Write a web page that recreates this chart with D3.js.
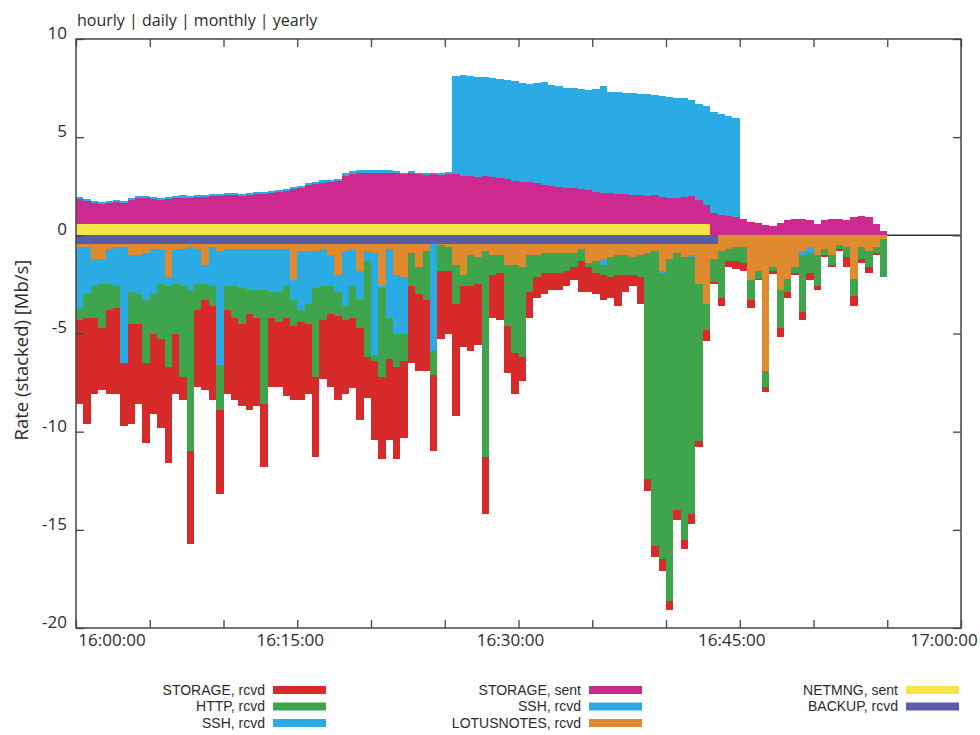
<!DOCTYPE html>
<html lang="en">
<head>
<meta charset="UTF-8">
<title>Rate (stacked)</title>
<script src="https://cdnjs.cloudflare.com/ajax/libs/d3/7.8.5/d3.min.js"></script>
<style>
	body { margin: 0; background: #fff; }
	svg text { font-family: "Open Sans", sans-serif; fill: #2b2b2b; }
	svg text.legend { font-family: "Liberation Sans", Arial, sans-serif; }
</style>
<script>
// 30 second samples, 16:00:00 .. 16:54:30
var times = [
	"16:00:00","16:00:30","16:01:00","16:01:30","16:02:00","16:02:30","16:03:00","16:03:30","16:04:00","16:04:30",
	"16:05:00","16:05:30","16:06:00","16:06:30","16:07:00","16:07:30","16:08:00","16:08:30","16:09:00","16:09:30",
	"16:10:00","16:10:30","16:11:00","16:11:30","16:12:00","16:12:30","16:13:00","16:13:30","16:14:00","16:14:30",
	"16:15:00","16:15:30","16:16:00","16:16:30","16:17:00","16:17:30","16:18:00","16:18:30","16:19:00","16:19:30",
	"16:20:00","16:20:30","16:21:00","16:21:30","16:22:00","16:22:30","16:23:00","16:23:30","16:24:00","16:24:30",
	"16:25:00","16:25:30","16:26:00","16:26:30","16:27:00","16:27:30","16:28:00","16:28:30","16:29:00","16:29:30",
	"16:30:00","16:30:30","16:31:00","16:31:30","16:32:00","16:32:30","16:33:00","16:33:30","16:34:00","16:34:30",
	"16:35:00","16:35:30","16:36:00","16:36:30","16:37:00","16:37:30","16:38:00","16:38:30","16:39:00","16:39:30",
	"16:40:00","16:40:30","16:41:00","16:41:30","16:42:00","16:42:30","16:43:00","16:43:30","16:44:00","16:44:30",
	"16:45:00","16:45:30","16:46:00","16:46:30","16:47:00","16:47:30","16:48:00","16:48:30","16:49:00","16:49:30",
	"16:50:00","16:50:30","16:51:00","16:51:30","16:52:00","16:52:30","16:53:00","16:53:30","16:54:00","16:54:30"
];

// sent (positive), Mb/s
var netmngSent = [
	0.6,0.6,0.6,0.6,0.6,0.6,0.6,0.6,0.6,0.6,
	0.6,0.6,0.6,0.6,0.6,0.6,0.6,0.6,0.6,0.6,
	0.6,0.6,0.6,0.6,0.6,0.6,0.6,0.6,0.6,0.6,
	0.6,0.6,0.6,0.6,0.6,0.6,0.6,0.6,0.6,0.6,
	0.6,0.6,0.6,0.6,0.6,0.6,0.6,0.6,0.6,0.6,
	0.6,0.6,0.6,0.6,0.6,0.6,0.6,0.6,0.6,0.6,
	0.6,0.6,0.6,0.6,0.6,0.6,0.6,0.6,0.6,0.6,
	0.6,0.6,0.6,0.6,0.6,0.6,0.6,0.6,0.6,0.6,
	0.6,0.6,0.6,0.6,0.6,0.6,0,0,0,0,
	0,0,0,0,0,0,0,0,0,0,
	0,0,0,0,0,0,0,0,0,0
];
var storageSent = [
	1.25,1.15,1.05,1.02,1.05,1.1,1.05,1.2,1.28,1.3,
	1.25,1.2,1.25,1.3,1.32,1.3,1.35,1.35,1.4,1.4,
	1.45,1.45,1.4,1.45,1.5,1.5,1.55,1.6,1.65,1.75,
	1.8,1.95,2.0,2.05,2.1,2.15,2.4,2.5,2.55,2.55,
	2.6,2.55,2.6,2.55,2.5,2.55,2.5,2.45,2.5,2.45,
	2.5,2.5,2.4,2.4,2.35,2.4,2.35,2.3,2.25,2.15,
	2.1,2.1,2.05,1.95,1.9,1.85,1.8,1.8,1.75,1.7,
	1.6,1.55,1.55,1.5,1.5,1.45,1.45,1.4,1.45,1.35,
	1.3,1.3,1.35,1.4,1.2,0.95,1.15,1.05,1.0,0.95,
	0.85,0.7,0.65,0.55,0.5,0.65,0.8,0.85,0.85,0.8,
	0.6,0.8,0.85,0.85,0.8,0.95,1.0,0.95,0.6,0.2
];
var sshSentTop = [
	0.12,0.1,0.08,0.1,0.1,0.08,0.1,0.1,0.12,0.1,
	0.1,0.12,0.1,0.1,0.12,0.1,0.1,0.12,0.1,0.1,
	0.12,0.1,0.12,0.1,0.1,0.12,0.1,0.1,0.12,0.1,
	0.1,0.12,0.1,0.15,0.1,0.12,0.15,0.2,0.18,0.2,
	0.15,0.2,0.15,0.12,0.1,0.12,0.1,0.12,0.1,0.1,
	0.12,5.0,5.15,5.1,5.1,5.05,5.05,5.05,5.05,5.1,
	5.05,5.0,5.1,5.25,5.15,5.15,5.1,5.1,5.1,5.1,
	5.25,5.45,5.15,5.2,5.15,5.2,5.15,5.2,5.1,5.15,
	5.15,5.1,5.05,4.9,4.9,5.05,5.15,5.15,5.1,5.05,
	0,0,0,0,0,0,0,0,0,0,
	0,0,0,0,0,0,0,0,0,0
];

// received (negative), Mb/s
var backupRcvd = [
	-0.42,-0.42,-0.42,-0.42,-0.42,-0.42,-0.42,-0.42,-0.42,-0.42,
	-0.42,-0.42,-0.42,-0.42,-0.42,-0.42,-0.42,-0.42,-0.42,-0.42,
	-0.42,-0.42,-0.42,-0.42,-0.42,-0.42,-0.42,-0.42,-0.42,-0.42,
	-0.42,-0.42,-0.42,-0.42,-0.42,-0.42,-0.42,-0.42,-0.42,-0.42,
	-0.42,-0.42,-0.42,-0.42,-0.42,-0.42,-0.42,-0.42,-0.42,-0.42,
	-0.42,-0.42,-0.42,-0.42,-0.42,-0.42,-0.42,-0.42,-0.42,-0.42,
	-0.42,-0.42,-0.42,-0.42,-0.42,-0.42,-0.42,-0.42,-0.42,-0.42,
	-0.42,-0.42,-0.42,-0.42,-0.42,-0.42,-0.42,-0.42,-0.42,-0.42,
	-0.42,-0.42,-0.42,-0.42,-0.42,-0.42,-0.42,0,0,0,
	0,0,0,0,0,0,0,0,0,0,
	0,0,0,0,0,0,0,0,0,0
];
var lotusRcvd = [
	-0.18,-0.18,-0.78,-0.78,-0.28,-0.18,-0.18,-0.58,-0.58,-0.48,
	-0.28,-0.28,-1.68,-0.28,-0.28,-0.18,-0.28,-1.08,-0.18,-0.38,
	-0.28,-0.28,-0.28,-0.28,-0.28,-0.28,-0.28,-0.28,-0.28,-1.88,
	-0.38,-0.38,-0.38,-0.28,-0.58,-1.58,-0.38,-0.28,-1.38,-0.38,
	-0.48,-2.18,-0.28,-1.58,-1.68,-0.48,-1.18,-0.38,-0.03,-0.08,
	-0.18,-1.08,-1.58,-0.58,-0.68,-0.38,-0.58,-0.58,-1.08,-1.08,
	-1.18,-0.58,-0.58,-0.48,-0.48,-0.48,-0.48,-0.48,-0.28,-0.98,
	-0.88,-0.78,-0.68,-0.58,-0.58,-0.68,-0.58,-0.48,-0.38,-1.38,
	-0.78,-0.48,-0.68,-0.58,-2.08,-3.08,-0.78,-0.8,-0.7,-0.6,
	-0.6,-2.3,-1.8,-6.9,-1.6,-2.8,-2.2,-1.6,-0.8,-0.6,
	-1.0,-0.7,-1.0,-0.5,-0.6,-2.2,-0.6,-0.8,-0.6,-0.2
];
var sshRcvd = [
	-3.1,-2.4,-1.4,-1.3,-1.8,-2.0,-5.9,-1.9,-2.0,-2.4,
	-2.3,-1.8,-0.5,-1.8,-1.9,-2.2,-1.8,-1.0,-2.0,-5.8,
	-1.9,-1.9,-2.0,-2.1,-2.1,-2.1,-2.2,-2.2,-1.9,-1.0,
	-3.0,-2.7,-1.9,-1.9,-1.6,-0.9,-2.8,-1.9,-1.5,-0.5,
	-5.2,-0.1,-3.5,-3.0,-2.9,0,0,0,-5.45,0,
	0,0,0,0,0,0,0,0,0,0,
	0,0,0,0,0,0,0,0,0,0,
	0,-0.3,0,0,0,0,0,0,0,-0.1,
	0,0,0,-0.1,0,0,0,0,0,0,
	0,0,0,0,0,0,0,0,-0.2,-0.3,
	0,0,0,0,0,0,0,0,0,0
];
var httpRcvd = [
	-0.6,-1.2,-1.6,-2.2,-1.3,-1.1,0,-1.6,-1.5,-3.2,
	-2.0,-2.8,-4.1,-2.5,-4.6,-8.2,-1.3,-0.8,-1.0,-2.3,
	-1.2,-1.6,-1.8,-1.2,-1.4,-5.8,-1.3,-1.5,-1.6,-1.3,
	-0.6,-1.0,-4.5,-1.7,-1.4,-1.2,-0.7,-1.6,-1.4,-4.9,
	-0.3,-4.5,-2.1,-1.7,-1.4,-1.7,-1.4,-2.5,-1.2,-1.3,
	-1.2,-2.0,-0.6,-1.6,-1.4,-10.5,-1.0,-0.9,-3.1,-4.5,
	-4.6,-1.9,-1.1,-1.0,-1.0,-1.0,-0.9,-0.7,-0.6,-0.2,
	-0.6,-0.5,-1.0,-1.0,-1.0,-0.9,-1.1,-11.5,-15.0,-14.6,
	-17.4,-13.1,-14.4,-13.1,-8.0,-1.3,-1.2,-2.4,-0.6,-0.7,
	-0.8,-1.0,-0.4,-0.8,-0.2,-1.9,-0.7,-0.3,-2.9,-1.0,
	-1.6,-0.3,-0.5,-0.2,-0.5,-0.9,-0.6,-0.8,-0.3,-1.9
];
var storageRcvd = [
	-4.3,-5.4,-3.9,-3.2,-4.3,-4.4,-3.2,-5.1,-4.1,-4.1,
	-4.1,-4.5,-4.9,-3.1,-1.2,-4.7,-3.9,-4.6,-4.8,-4.3,
	-4.3,-4.2,-4.2,-4.9,-4.5,-3.2,-3.5,-3.3,-4.0,-3.8,
	-4.0,-3.6,-4.1,-3.0,-3.7,-4.3,-3.8,-3.6,-4.7,-2.1,
	-4.0,-4.2,-4.1,-4.7,-3.9,-3.9,-3.9,-3.6,-3.9,-3.5,
	-3.2,-5.7,-3.1,-3.3,-3.1,-2.9,-2.2,-2.4,-2.4,-2.1,
	-1.2,-1.3,-1.1,-1.1,-0.9,-0.9,-0.8,-0.7,-1.6,-1.3,
	-1.1,-1.3,-1.1,-1.6,-0.9,-0.6,-1.4,-0.6,-0.6,-0.6,
	-0.5,-0.5,-0.5,-0.5,-0.3,-0.6,-0.1,-0.4,-0.3,-0.4,
	-0.4,-0.4,-0.1,-0.3,-0.15,-0.5,-0.3,-0.1,-0.4,-0.4,
	-0.2,-0.1,-0.1,-0.1,-0.5,-0.5,-0.2,-0.3,-0.1,0
];

var yTicks = [10, 5, 0, -5, -10, -15, -20];
var xLabels = ["16:00:00", "16:15:00", "16:30:00", "16:45:00", "17:00:00"];
var title = "hourly | daily | monthly | yearly";

function makeChart() {
	var svg = d3.select("#chart");
	var left = 76, right = 961, top = 39, bottom = 628;
	var parse = d3.timeParse("%H:%M:%S");

	var scX = d3.scaleTime()
		.domain([parse("16:00:00"), parse("17:00:00")])
		.range([left, right]);
	var scY = d3.scaleLinear()
		.domain([-20, 10])
		.range([bottom, top]);

	// stacking order: positives up from 0, negatives down from 0
	var series = [
		{ key: "netmng", label: "NETMNG, sent", values: netmngSent, color: "#f7e545" },
		{ key: "backup", label: "BACKUP, rcvd", values: backupRcvd, color: "#5a5ca8" },
		{ key: "storSent", label: "STORAGE, sent", values: storageSent, color: "#cc2a8e" },
		{ key: "lotus", label: "LOTUSNOTES, rcvd", values: lotusRcvd, color: "#e08a2f" },
		{ key: "sshTop", label: "SSH, rcvd", values: sshSentTop, color: "#2aabe3" },
		{ key: "ssh", label: "SSH, rcvd", values: sshRcvd, color: "#2aabe3" },
		{ key: "http", label: "HTTP, rcvd", values: httpRcvd, color: "#3fa54c" },
		{ key: "storRcvd", label: "STORAGE, rcvd", values: storageRcvd, color: "#d62a2b" }
	];

	var rows = times.map(function(t, i) {
		var r = { t: parse(t) };
		series.forEach(function(s) { r[s.key] = s.values[i]; });
		return r;
	});

	var layers = d3.stack()
		.keys(series.map(s => s.key))
		.offset(d3.stackOffsetDiverging)(rows);

	// zero line
	svg.append("line")
		.attr("x1", left).attr("x2", right)
		.attr("y1", scY(0)).attr("y2", scY(0))
		.attr("stroke", "#333").attr("stroke-width", 1.5);

	var bars = svg.append("g").attr("shape-rendering", "crispEdges");
	layers.forEach(function(layer, k) {
		bars.append("g")
			.attr("fill", series[k].color)
			.selectAll("rect")
			.data(layer.filter(d => d[1] !== d[0]))
			.enter()
			.append("rect")
			.attr("x", d => Math.round(scX(d.data.t)))
			.attr("width", d => Math.round(scX(d3.timeSecond.offset(d.data.t, 30))) - Math.round(scX(d.data.t)))
			.attr("y", d => scY(Math.max(d[0], d[1])))
			.attr("height", d => Math.abs(scY(d[0]) - scY(d[1])));
	});

	// frame and inward ticks
	var tickVals = d3.timeMinute.every(5).range(parse("16:00:00"), parse("17:00:01"));
	function clean(g) {
		g.select(".domain").remove();
		g.selectAll("line").attr("stroke", "#444").attr("stroke-width", 1.3);
	}
	svg.append("g").attr("transform", "translate(0," + bottom + ")")
		.call(d3.axisBottom(scX).tickValues(tickVals).tickSize(-8).tickFormat(""))
		.call(clean);
	svg.append("g").attr("transform", "translate(0," + top + ")")
		.call(d3.axisTop(scX).tickValues(tickVals).tickSize(-8).tickFormat(""))
		.call(clean);
	svg.append("g").attr("transform", "translate(" + left + ",0)")
		.call(d3.axisLeft(scY).tickValues(yTicks).tickSize(-8).tickFormat(""))
		.call(clean);
	svg.append("g").attr("transform", "translate(" + right + ",0)")
		.call(d3.axisRight(scY).tickValues(yTicks).tickSize(-8).tickFormat(""))
		.call(clean);

	svg.append("rect")
		.attr("x", left).attr("y", top)
		.attr("width", right - left).attr("height", bottom - top)
		.attr("fill", "none").attr("stroke", "#444").attr("stroke-width", 1.5);

	// y tick labels
	svg.append("g")
		.selectAll("text")
		.data(yTicks)
		.enter()
		.append("text")
		.attr("x", 67)
		.attr("y", d => scY(d) - 6)
		.attr("dy", "0.35em")
		.attr("text-anchor", "end")
		.attr("font-size", 17)
		.text(d => d);

	// x tick labels
	var xShift = [36, -7, -8, -8, -17];
	svg.append("g")
		.selectAll("text")
		.data(xLabels)
		.enter()
		.append("text")
		.attr("x", (d, i) => scX(parse(d)) + xShift[i])
		.attr("y", 646)
		.attr("text-anchor", "middle")
		.attr("font-size", 17)
		.text(d => d);

	svg.append("text")
		.attr("x", 77).attr("y", 26)
		.attr("font-size", 16)
		.text(title);

	svg.append("text")
		.attr("transform", "translate(28,350) rotate(-90)")
		.attr("text-anchor", "middle")
		.attr("font-size", 18.5)
		.text("Rate (stacked) [Mb/s]");

	// legend, three columns
	var legendCols = [
		{ textX: 265, keys: ["storRcvd", "http", "ssh"] },
		{ textX: 581, keys: ["storSent", "sshTop", "lotus"] },
		{ textX: 898, keys: ["netmng", "backup"] }
	];
	legendCols.forEach(function(col) {
		col.keys.forEach(function(key, r) {
			var s = series.find(d => d.key === key);
			var y = 690 + r * 16.5;
			svg.append("text")
				.attr("class", "legend")
				.attr("x", col.textX).attr("y", y)
				.attr("dy", "0.35em")
				.attr("text-anchor", "end")
				.attr("font-size", 14)
				.text(s.label);
			svg.append("rect")
				.attr("x", col.textX + 8).attr("y", y - 4)
				.attr("width", 53).attr("height", 8)
				.attr("fill", s.color);
		});
	});
}
</script>
</head>
<body onload="makeChart()">
<svg id="chart" width="980" height="735"></svg>
</body>
</html>
